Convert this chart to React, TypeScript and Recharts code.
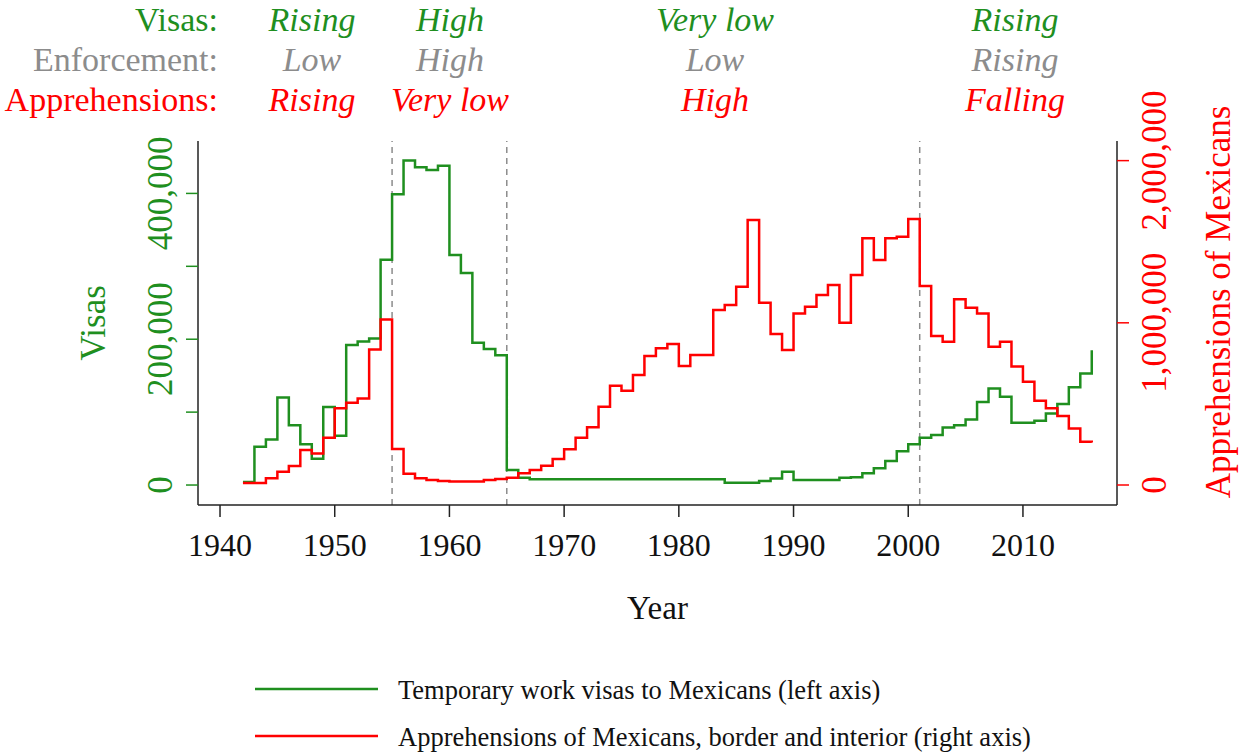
import React from 'react';
import { ComposedChart, Line, XAxis, YAxis, ReferenceLine } from 'recharts';

const years = Array.from({ length: 75 }, (_, i) => 1942 + i);

// temporary work visas to Mexicans (left axis)
const visas = [
  4200, 52500, 62500, 120000, 82000, 56000, 36000, 107000, 67500, 192000,
  197000, 201000, 309000, 399000, 445000, 436000, 432000, 438000, 315500, 291000,
  195000, 186500, 178000, 20500, 10000, 8000, 8000, 8000, 8000, 8000,
  8000, 8000, 8000, 8000, 8000, 8000, 8000, 8000, 8000, 8000,
  8000, 8000, 3200, 3200, 3200, 5500, 9000, 18300, 7000, 7000,
  7000, 7000, 10000, 10500, 16000, 23000, 33000, 46500, 56000, 65000,
  68500, 79000, 82000, 90000, 114000, 132500, 121000, 85500, 85500, 88000,
  98000, 111000, 134000, 153000, 185000,
];

// apprehensions of Mexicans, border and interior (right axis)
const apprehensions = [
  12000, 12000, 41000, 82000, 117000, 216000, 195000, 292000, 473000, 507000,
  534000, 836000, 1021000, 222000, 69000, 41000, 31000, 25000, 21000, 21000,
  21000, 31000, 37000, 45000, 72000, 92000, 119000, 160000, 220000, 292000,
  356000, 483000, 612000, 581000, 678000, 795000, 843000, 869000, 734000, 801000,
  801000, 1079000, 1110000, 1223000, 1634000, 1124000, 931000, 832000, 1058000, 1099000,
  1171000, 1233000, 1001000, 1295000, 1521000, 1387000, 1521000, 1531000, 1640000, 1227000,
  919000, 884000, 1145000, 1093000, 1058000, 853000, 884000, 730000, 637000, 520000,
  473000, 425000, 349000, 267000, 262000,
];

const yearTicks = [1940, 1950, 1960, 1970, 1980, 1990, 2000, 2010];
const visaTicks = [0, 100000, 200000, 300000, 400000];
const visaLabelled = [0, 200000, 400000];
const apprTicks = [0, 1000000, 2000000];
const periodBreaks = [1955, 1965, 2001];

const headerRows = [
  { label: 'Visas:', values: ['Rising', 'High', 'Very low', 'Rising'] },
  { label: 'Enforcement:', values: ['Low', 'High', 'Low', 'Rising'] },
  { label: 'Apprehensions:', values: ['Rising', 'Very low', 'High', 'Falling'] },
];

const data = years.map((year, i) => ({
  year,
  visas: visas[i],
  apprehensions: apprehensions[i],
}));

const GREEN = '#1f8f1f';
const RED = '#ff0000';
const GREY = '#8c8c8c';
const FONT = '"Liberation Serif", "Times New Roman", serif';

const W = 1241;
const H = 754;
const PLOT_LEFT = 198;
const PLOT_RIGHT = 1117;
const PLOT_TOP = 141;
const PLOT_BOTTOM = 505;
const AXIS_W = 60;

const fmt = (v: number) => v.toLocaleString('en-US');

const XTick = (props: any) => (
  <text x={props.x} y={556} textAnchor="middle" fontSize={32} fontFamily={FONT} fill="#111">
    {props.payload.value}
  </text>
);

const LeftTick = (props: any) => {
  const v = props.payload.value;
  if (!visaLabelled.includes(v)) return <g />;
  const x = 172;
  return (
    <text x={x} y={props.y} transform={`rotate(-90, ${x}, ${props.y})`} textAnchor="middle"
      fontSize={35} fontFamily={FONT} fill={GREEN}>
      {fmt(v)}
    </text>
  );
};

const RightTick = (props: any) => {
  const x = 1166;
  return (
    <text x={x} y={props.y} transform={`rotate(-90, ${x}, ${props.y})`} textAnchor="middle"
      fontSize={35} fontFamily={FONT} fill={RED}>
      {fmt(props.payload.value)}
    </text>
  );
};

const colX = [312, 450, 715, 1015];
const rowColor = [GREEN, GREY, RED];

const App: React.FC = () => {
  return (
    <div style={{ position: 'absolute', left: 0, top: 0, width: W, height: H, background: '#fff' }}>
      <ComposedChart
        width={W}
        height={H}
        data={data}
        margin={{ top: PLOT_TOP, right: W - PLOT_RIGHT - AXIS_W, left: PLOT_LEFT - AXIS_W, bottom: 0 }}
      >
        <XAxis
          dataKey="year"
          type="number"
          domain={[1938.08, 2018.2]}
          allowDataOverflow
          ticks={yearTicks}
          tick={<XTick />}
          tickSize={12}
          height={H - PLOT_BOTTOM}
          axisLine={{ stroke: '#222', strokeWidth: 1.5 }}
          tickLine={{ stroke: '#222', strokeWidth: 1.5 }}
        />
        <YAxis
          yAxisId="left"
          orientation="left"
          type="number"
          domain={[-27400, 471900]}
          allowDataOverflow
          ticks={visaTicks}
          tick={<LeftTick />}
          tickSize={12}
          width={AXIS_W}
          axisLine={{ stroke: '#222', strokeWidth: 1.5 }}
          tickLine={{ stroke: GREEN, strokeWidth: 1.5 }}
        />
        <YAxis
          yAxisId="right"
          orientation="right"
          type="number"
          domain={[-123300, 2121000]}
          allowDataOverflow
          ticks={apprTicks}
          tick={<RightTick />}
          tickSize={12}
          width={AXIS_W}
          axisLine={{ stroke: '#222', strokeWidth: 1.5 }}
          tickLine={{ stroke: RED, strokeWidth: 1.5 }}
        />
        {periodBreaks.map((yr) => (
          <ReferenceLine key={yr} x={yr} yAxisId="left" stroke={GREY} strokeWidth={1.5} strokeDasharray="6 5" />
        ))}
        <Line yAxisId="left" type="stepAfter" dataKey="visas" stroke={GREEN} strokeWidth={2.5}
          dot={false} isAnimationActive={false} />
        <Line yAxisId="right" type="stepAfter" dataKey="apprehensions" stroke={RED} strokeWidth={2.5}
          dot={false} isAnimationActive={false} />
      </ComposedChart>

      <svg width={W} height={H} style={{ position: 'absolute', left: 0, top: 0, pointerEvents: 'none' }}
        fontFamily={FONT}>
        {/* period header */}
        {headerRows.map((row, r) => (
          <g key={row.label} fill={rowColor[r]} fontSize={34}>
            <text x={218} y={31 + r * 40} textAnchor="end">{row.label}</text>
            {row.values.map((v, c) => (
              <text key={c} x={colX[c]} y={31 + r * 40} textAnchor="middle" fontStyle="italic">{v}</text>
            ))}
          </g>
        ))}

        {/* axis titles */}
        <text x={(PLOT_LEFT + PLOT_RIGHT) / 2} y={619} textAnchor="middle" fontSize={33} fill="#111">Year</text>
        <text x={105} y={323} transform="rotate(-90, 105, 323)" textAnchor="middle" fontSize={35} fill={GREEN}>Visas</text>
        <text x={1230} y={302} transform="rotate(-90, 1230, 302)" textAnchor="middle" fontSize={35} fill={RED}>
          Apprehensions of Mexicans
        </text>

        {/* legend */}
        <line x1={255} x2={378} y1={689} y2={689} stroke={GREEN} strokeWidth={2.5} />
        <text x={398} y={699} fontSize={26.5} fill="#111">Temporary work visas to Mexicans (left axis)</text>
        <line x1={255} x2={378} y1={736} y2={736} stroke={RED} strokeWidth={2.5} />
        <text x={398} y={746} fontSize={26.5} fill="#111">Apprehensions of Mexicans, border and interior (right axis)</text>
      </svg>
    </div>
  );
};

export default App;
